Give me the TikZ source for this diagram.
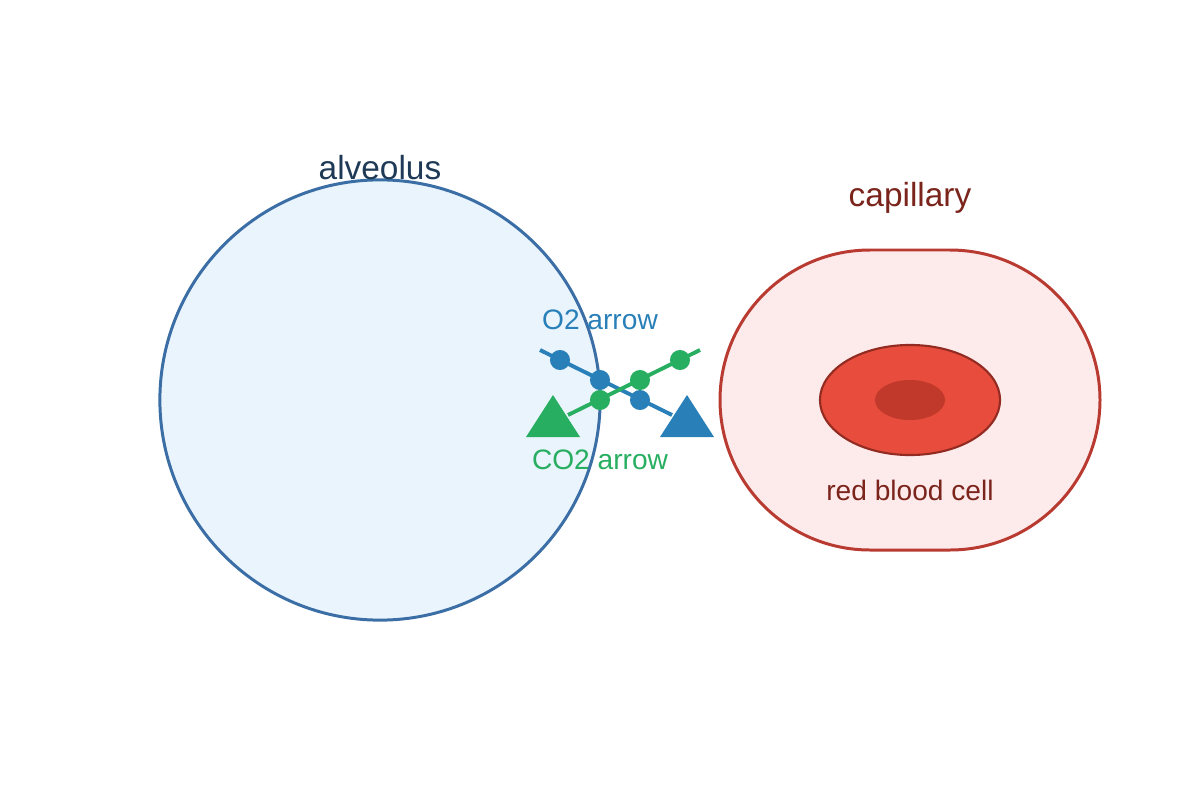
\documentclass[tikz,border=0pt]{standalone}
\usepackage{fontspec}
\setmainfont{Liberation Sans}
\usetikzlibrary{shapes.geometric}
\definecolor{alvfill}{HTML}{EAF4FD}
\definecolor{alvline}{HTML}{3A6EA5}
\definecolor{alvtext}{HTML}{1F3A56}
\definecolor{capfill}{HTML}{FDEBEC}
\definecolor{capline}{HTML}{B83A30}
\definecolor{captext}{HTML}{7B241C}
\definecolor{rbcfill}{HTML}{E74C3C}
\definecolor{rbcline}{HTML}{922B21}
\definecolor{rbccore}{HTML}{C0392B}
\definecolor{otwo}{HTML}{2980B9}
\definecolor{cotwo}{HTML}{27AE60}

\begin{document}
\begin{tikzpicture}[x=0.01cm,y=-0.01cm,
  title/.style={font=\fontsize{9.5}{11}\selectfont},
  label/.style={font=\fontsize{8}{10}\selectfont},
  dot/.style={circle,inner sep=0pt,minimum size=5.7pt,fill=#1}]
  \useasboundingbox (0,0) rectangle (1200,800);

  % alveolus
  \node[circle,draw=alvline,fill=alvfill,line width=0.85pt,inner sep=0pt,minimum size=4.4cm] (alv) at (380,400) {};
  \node[title,text=alvtext] (alvt) at (380,168) {alveolus};

  % capillary
  \draw[draw=capline,fill=capfill,line width=0.85pt,rounded corners=1.5cm] (720,250) rectangle (1100,550);
  \node[title,text=captext] (capt) at (910,198) {capillary};
  \node[ellipse,draw=rbcline,fill=rbcfill,line width=0.6pt,minimum width=1.8cm,minimum height=1.1cm,inner sep=0pt] (rbc) at (910,400) {};
  \node[ellipse,fill=rbccore,minimum width=0.7cm,minimum height=0.4cm,inner sep=0pt] (core) at (910,400) {};
  \node[label,text=captext] (rbct) at (910,490) {red blood cell};

  % O2 arrow
  \coordinate (o0) at (540,350);
  \coordinate (o4) at (672,415);
  \draw[otwo,line width=1.1pt] (o0) -- (o4);
  \node[dot=otwo] (o1) at (560,360) {};
  \node[dot=otwo] (o2) at (600,380) {};
  \node[dot=otwo] (o3) at (640,400) {};
  \fill[otwo] (687,395) -- (714,437) -- (660,437) -- cycle;
  \node[label,text=otwo] (ot) at (600,320) {O2 arrow};

  % CO2 arrow
  \coordinate (c0) at (700,350);
  \coordinate (c4) at (568,415);
  \draw[cotwo,line width=1.1pt] (c0) -- (c4);
  \node[dot=cotwo] (c1) at (680,360) {};
  \node[dot=cotwo] (c2) at (640,380) {};
  \node[dot=cotwo] (c3) at (600,400) {};
  \fill[cotwo] (553,395) -- (580,437) -- (526,437) -- cycle;
  \node[label,text=cotwo] (ct) at (600,460) {CO2 arrow};
\end{tikzpicture}
\end{document}
